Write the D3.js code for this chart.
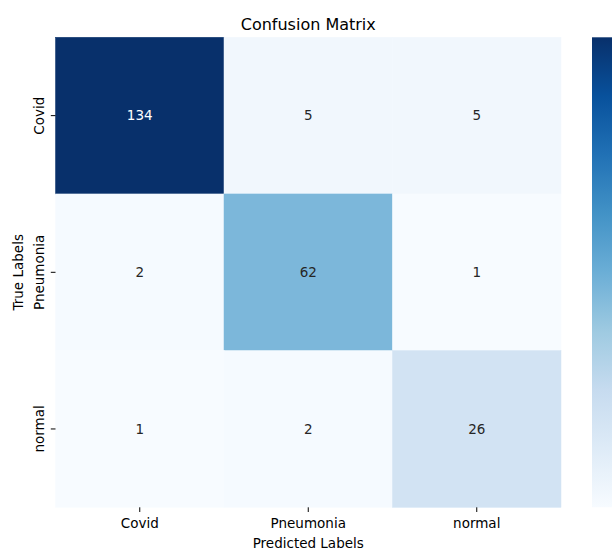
<!DOCTYPE html>
<html>
<head>
<meta charset="utf-8">
<script src="https://cdn.jsdelivr.net/npm/d3@7"></script>
<style>
  body { margin: 0; background: #fff; }
  svg { font-family: "DejaVu Sans", sans-serif; }
</style>
</head>
<body>
<svg id="chart"></svg>
<script>
// 画面の幅と高さ
var w = 612;
var h = 551;

// データ
var labels = ["Covid", "Pneumonia", "normal"];
var matrix = [
  [134, 5, 5],
  [2, 62, 1],
  [1, 2, 26]
];
var blues = ["#f7fbff", "#deebf7", "#c6dbef", "#9ecae1", "#6baed6",
             "#4292c6", "#2171b5", "#08519c", "#08306b"];

var svg = d3.select("#chart")
  .attr("width", w)
  .attr("height", h);

// ヒートマップの領域 (window.top と被らないよう名前を変える)
var pLeft = 55.5, pRight = 561, pTop = 37.3, pBottom = 507.3;

var x = d3.scaleBand().domain(labels).range([pLeft, pRight]);
var y = d3.scaleBand().domain(labels).range([pTop, pBottom]);

var cells = [];
matrix.forEach((row, i) => {
  row.forEach((v, j) => {
    cells.push({ t: labels[i], p: labels[j], v: v });
  });
});

var vmin = d3.min(cells, d => d.v);
var vmax = d3.max(cells, d => d.v);

// matplotlib風 Blues (線形補間)
var color = d3.scaleLinear()
  .domain(blues.map((c, i) => vmin + (vmax - vmin) * i / (blues.length - 1)))
  .range(blues)
  .interpolate(d3.interpolateRgb);

svg.selectAll("rect.cell")
  .data(cells)
  .enter()
  .append("rect")
  .attr("class", "cell")
  .attr("x", d => x(d.p))
  .attr("y", d => y(d.t))
  .attr("width", x.bandwidth())
  .attr("height", y.bandwidth())
  .attr("fill", d => color(d.v))
  .attr("stroke", d => color(d.v))
  .attr("stroke-width", 0.5);

function lum(c) {
  var r = d3.rgb(c);
  var f = v => { v /= 255; return v <= 0.03928 ? v / 12.92 : Math.pow((v + 0.055) / 1.055, 2.4); };
  return 0.2126 * f(r.r) + 0.7152 * f(r.g) + 0.0722 * f(r.b);
}

svg.selectAll("text.annot")
  .data(cells)
  .enter()
  .append("text")
  .attr("class", "annot")
  .attr("x", d => x(d.p) + x.bandwidth() / 2)
  .attr("y", d => y(d.t) + y.bandwidth() / 2)
  .attr("dy", "0.36em")
  .attr("text-anchor", "middle")
  .style("font-size", "13.5px")
  .attr("fill", d => lum(color(d.v)) < 0.408 ? "#ffffff" : "#262626")
  .text(d => d.v);

// 軸
var xAxis = svg.append("g")
  .attr("transform", `translate(0,${pBottom})`)
  .call(d3.axisBottom(x).tickSize(4.7).tickPadding(6.5));
var yAxis = svg.append("g")
  .attr("transform", `translate(${pLeft},0)`)
  .call(d3.axisLeft(y).tickSize(4.7).tickPadding(4.5));

[xAxis, yAxis].forEach(a => {
  a.select(".domain").remove();
  a.selectAll(".tick line").attr("stroke", "#000").attr("stroke-width", 1);
  a.selectAll(".tick text")
    .style("font-size", "13.5px")
    .style("font-family", "DejaVu Sans, sans-serif")
    .attr("fill", "#000");
});

yAxis.selectAll(".tick text")
  .attr("x", null).attr("dy", null)
  .attr("text-anchor", "middle")
  .attr("transform", "translate(-11.5,0) rotate(-90)")
  .attr("y", 0);

svg.append("text")
  .attr("x", (pLeft + pRight) / 2)
  .attr("y", 30)
  .attr("text-anchor", "middle")
  .style("font-size", "16px")
  .text("Confusion Matrix");

svg.append("text")
  .attr("x", (pLeft + pRight) / 2)
  .attr("y", 548)
  .attr("text-anchor", "middle")
  .style("font-size", "13.5px")
  .text("Predicted Labels");

svg.append("text")
  .attr("transform", `translate(23,${(pTop + pBottom) / 2}) rotate(-90)`)
  .attr("text-anchor", "middle")
  .style("font-size", "13.5px")
  .text("True Labels");

// カラーバー
var defs = svg.append("defs");
var grad = defs.append("linearGradient")
  .attr("id", "cbar")
  .attr("x1", 0).attr("y1", 1).attr("x2", 0).attr("y2", 0);
blues.forEach((c, i) => {
  grad.append("stop")
    .attr("offset", i / (blues.length - 1))
    .attr("stop-color", c);
});
svg.append("rect")
  .attr("x", 592)
  .attr("y", pTop)
  .attr("width", 24)
  .attr("height", pBottom - pTop)
  .attr("fill", "url(#cbar)");
</script>
</body>
</html>
